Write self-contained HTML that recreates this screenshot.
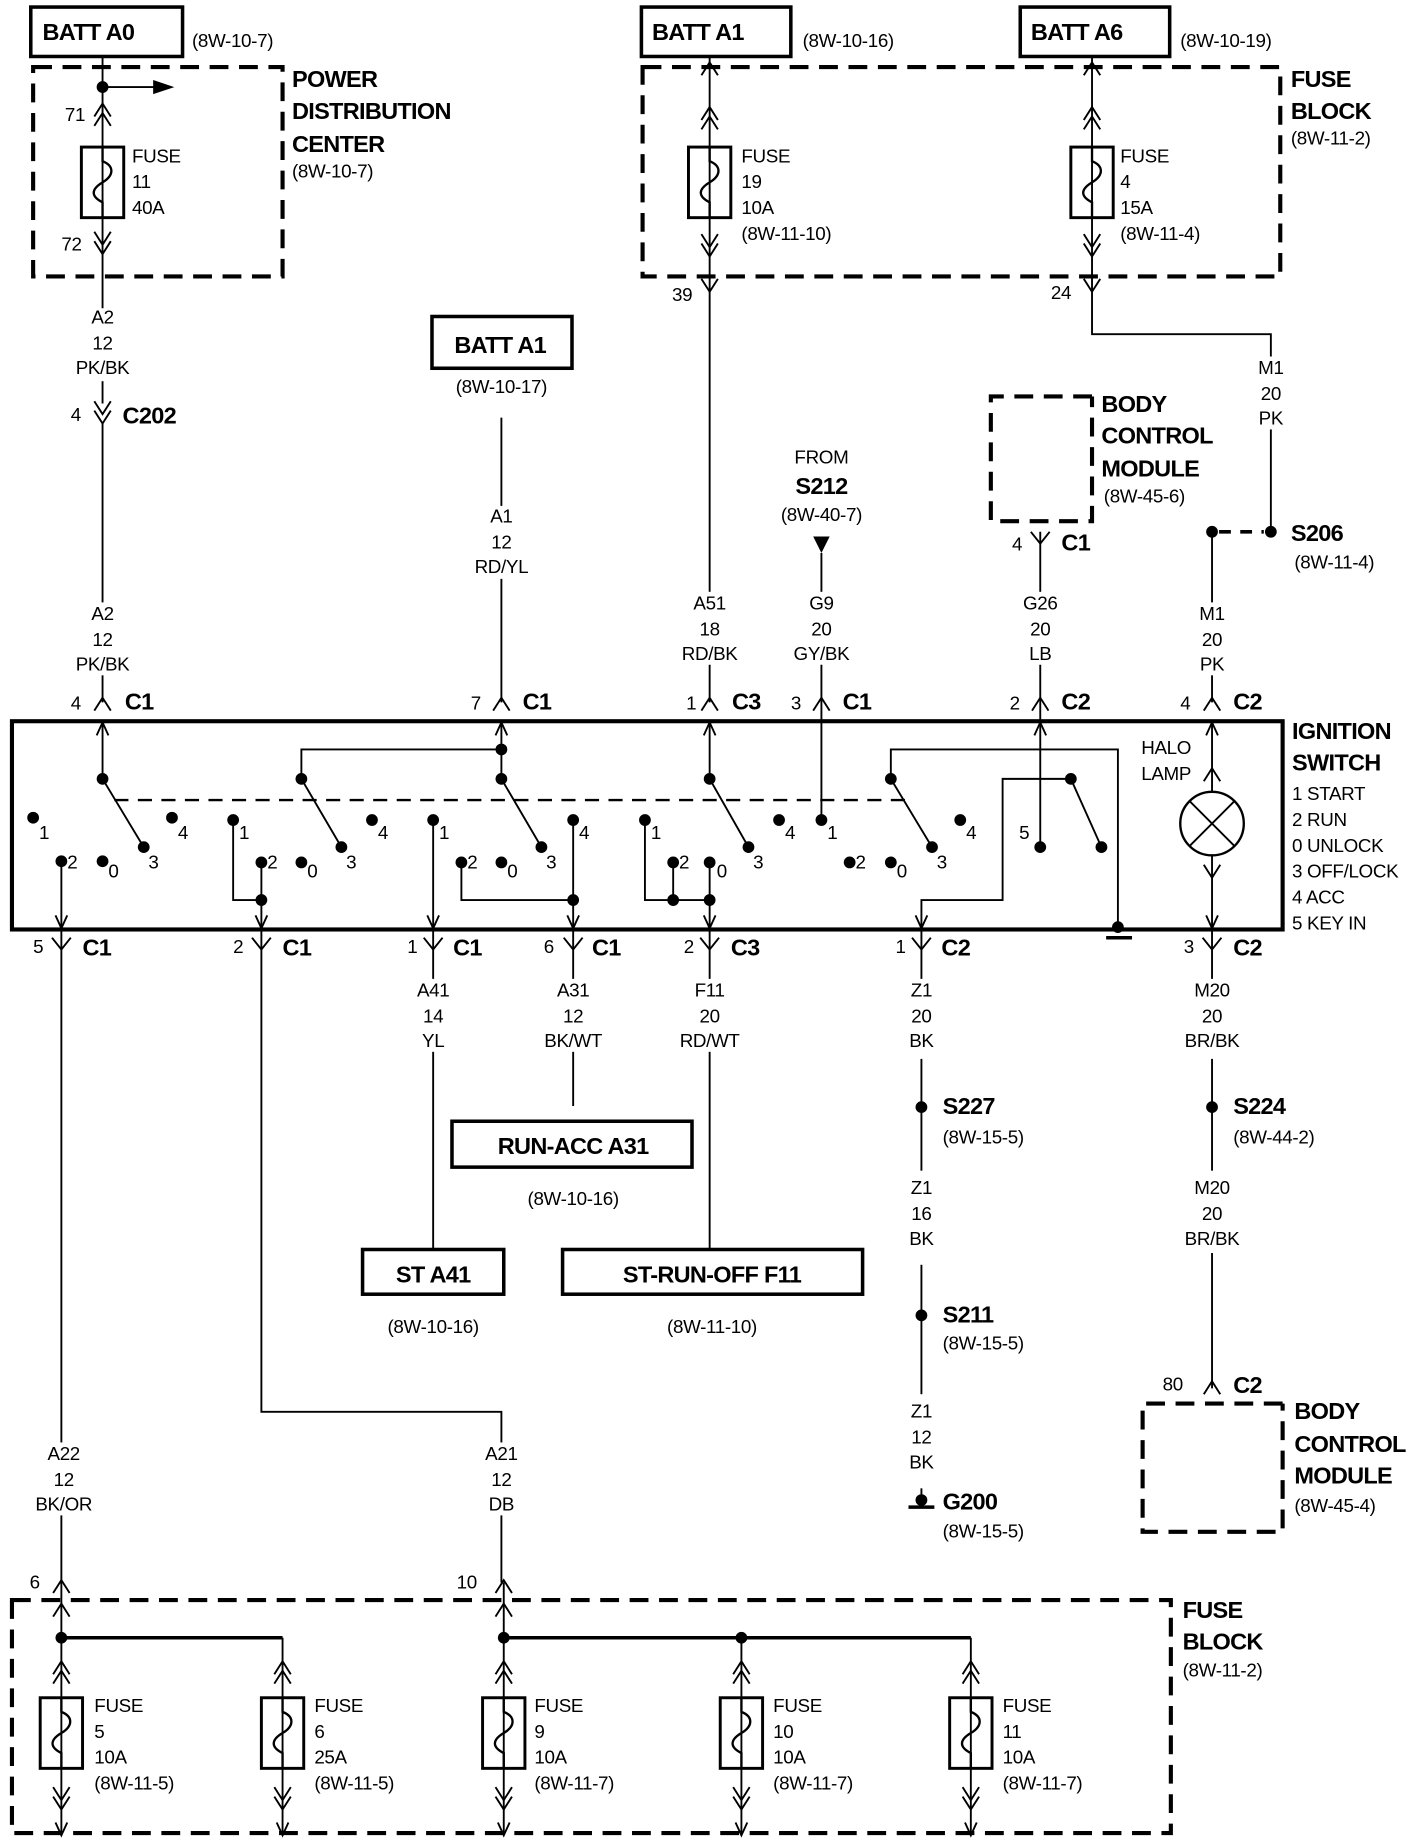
<!DOCTYPE html>
<html><head><meta charset="utf-8"><style>
html,body{margin:0;padding:0;background:#fff}
svg{display:block}
text{font-family:"Liberation Sans Narrow","Liberation Sans",sans-serif;fill:#000}
.b{font-weight:bold;font-size:20px;letter-spacing:-0.6px}
.n{font-size:16px;letter-spacing:-0.3px}
.w{stroke:#000;stroke-width:1.6;fill:none}
.k{stroke:#000;stroke-width:3;fill:none}
.d{stroke:#000;stroke-width:3.5;fill:none;stroke-dasharray:16 9}
.c{text-anchor:middle}
</style></head><body>
<svg width="1424" height="1846" viewBox="0 0 1210 1569" xmlns="http://www.w3.org/2000/svg">
<defs>
<path id="up" d="M-7,7 L0,-4 L7,7" class="w"/>
<g id="dup"><path d="M-7,7 L0,-4 L7,7" class="w"/><path d="M-7,15 L0,4 L7,15" class="w"/></g>
<path id="dn" d="M-7,-7 L0,4 L7,-7" class="w"/>
<g id="ddn"><path d="M-7,-15 L0,-4 L7,-15" class="w"/><path d="M-7,-7 L0,4 L7,-7" class="w"/></g>
<path id="ar" d="M-5,-11 L0,0 L5,-11" class="w"/>
<g id="fuse"><rect x="-18" y="0" width="36" height="60" class="k" style="stroke-width:2.5"/><path d="M0,0 L0,12 C10,16 10,24 0,30 C-10,36 -10,42 0,47 L0,60" class="w" style="stroke-width:2"/></g>
<circle id="dot" r="5" fill="#000"/>
</defs>

<!-- TOP LEFT -->
<rect x="26" y="6" width="129" height="42" class="k"/>
<text x="36" y="34" class="b">BATT A0</text>
<text x="163" y="40" class="n">(8W-10-7)</text>
<rect x="28" y="57" width="212" height="178" class="d"/>
<text x="248" y="74" class="b">POWER</text>
<text x="248" y="101" class="b">DISTRIBUTION</text>
<text x="248" y="129" class="b">CENTER</text>
<text x="248" y="151" class="n">(8W-10-7)</text>
<path d="M87,48 V343 M87,360 V597" class="w"/>
<use href="#dot" x="87" y="74"/>
<path d="M87,74 H132" class="w"/><path d="M130,68 L148,74 L130,80 Z"/>
<use href="#dup" x="87" y="92"/><text x="55" y="103" class="n">71</text>
<g transform="translate(87,125)"><use href="#fuse"/></g>
<text x="112" y="138" class="n">FUSE</text><text x="112" y="160" class="n">11</text><text x="112" y="182" class="n">40A</text>
<use href="#ddn" x="87" y="212"/><text x="52" y="213" class="n">72</text>
<rect x="70" y="262" width="34" height="62" fill="#fff"/>
<text x="87" y="275" class="n c">A2</text><text x="87" y="297" class="n c">12</text><text x="87" y="318" class="n c">PK/BK</text>
<use href="#ddn" x="87" y="356"/><text x="60" y="358" class="n">4</text><text x="104" y="360" class="b">C202</text>
<rect x="70" y="512" width="34" height="62" fill="#fff"/>
<text x="87" y="527" class="n c">A2</text><text x="87" y="549" class="n c">12</text><text x="87" y="570" class="n c">PK/BK</text>
<use href="#up" x="87" y="597"/><text x="60" y="603" class="n">4</text><text x="106" y="603" class="b">C1</text>

<!-- BATT A1 middle -->
<rect x="367" y="269" width="119" height="44" class="k"/>
<text x="386" y="300" class="b">BATT A1</text>
<text x="426" y="334" class="n c">(8W-10-17)</text>
<path d="M426,355 V597" class="w"/>
<rect x="406" y="430" width="40" height="62" fill="#fff"/>
<text x="426" y="444" class="n c">A1</text><text x="426" y="466" class="n c">12</text><text x="426" y="487" class="n c">RD/YL</text>
<use href="#up" x="426" y="597"/><text x="400" y="603" class="n">7</text><text x="444" y="603" class="b">C1</text>

<!-- TOP RIGHT FUSE BLOCK -->
<rect x="545" y="6" width="127" height="42" class="k"/>
<text x="554" y="34" class="b">BATT A1</text>
<text x="682" y="40" class="n">(8W-10-16)</text>
<rect x="867" y="6" width="127" height="42" class="k"/>
<text x="876" y="34" class="b">BATT A6</text>
<text x="1003" y="40" class="n">(8W-10-19)</text>
<rect x="546" y="57" width="542" height="178" class="d"/>
<text x="1097" y="74" class="b">FUSE</text><text x="1097" y="101" class="b">BLOCK</text><text x="1097" y="123" class="n">(8W-11-2)</text>
<path d="M603,48 V597" class="w"/>
<use href="#up" x="603" y="57"/><use href="#dup" x="603" y="95"/>
<g transform="translate(603,125)"><use href="#fuse"/></g>
<use href="#ddn" x="603" y="214"/><use href="#dn" x="603" y="244"/>
<text x="630" y="138" class="n">FUSE</text><text x="630" y="160" class="n">19</text><text x="630" y="182" class="n">10A</text><text x="630" y="204" class="n">(8W-11-10)</text>
<text x="571" y="256" class="n">39</text>
<path d="M928,48 V284 H1080 V452" class="w"/>
<use href="#up" x="928" y="57"/><use href="#dup" x="928" y="95"/>
<g transform="translate(928,125)"><use href="#fuse"/></g>
<use href="#ddn" x="928" y="214"/><use href="#dn" x="928" y="244"/>
<text x="952" y="138" class="n">FUSE</text><text x="952" y="160" class="n">4</text><text x="952" y="182" class="n">15A</text><text x="952" y="204" class="n">(8W-11-4)</text>
<text x="893" y="254" class="n">24</text>
<rect x="1066" y="303" width="28" height="62" fill="#fff"/>
<text x="1080" y="318" class="n c">M1</text><text x="1080" y="340" class="n c">20</text><text x="1080" y="361" class="n c">PK</text>
<use href="#dot" x="1080" y="452"/><use href="#dot" x="1030" y="452"/>
<path d="M1036,452 H1074" class="w" style="stroke-width:3;stroke-dasharray:10 8"/>
<text x="1097" y="460" class="b">S206</text><text x="1100" y="483" class="n">(8W-11-4)</text>
<path d="M1030,452 V597" class="w"/>
<rect x="1014" y="512" width="32" height="62" fill="#fff"/>
<text x="1030" y="527" class="n c">M1</text><text x="1030" y="549" class="n c">20</text><text x="1030" y="570" class="n c">PK</text>
<use href="#up" x="1030" y="597"/><text x="1003" y="603" class="n">4</text><text x="1048" y="603" class="b">C2</text>

<!-- FROM S212 -->
<text x="698" y="394" class="n c">FROM</text>
<text x="698" y="420" class="b c">S212</text>
<text x="698" y="443" class="n c">(8W-40-7)</text>
<path d="M691,456 L705,456 L698,470 Z"/>
<path d="M698,470 V700" class="w"/>
<rect x="676" y="503" width="44" height="62" fill="#fff"/>
<text x="698" y="518" class="n c">G9</text><text x="698" y="540" class="n c">20</text><text x="698" y="561" class="n c">GY/BK</text>
<use href="#up" x="698" y="597"/><text x="672" y="603" class="n">3</text><text x="716" y="603" class="b">C1</text>
<rect x="581" y="503" width="44" height="62" fill="#fff"/>
<text x="603" y="518" class="n c">A51</text><text x="603" y="540" class="n c">18</text><text x="603" y="561" class="n c">RD/BK</text>
<use href="#up" x="603" y="597"/><text x="583" y="603" class="n">1</text><text x="622" y="603" class="b">C3</text>

<!-- BCM top -->
<path d="M928,337 H842 V443 H928 V337" class="d"/>
<text x="936" y="350" class="b">BODY</text><text x="936" y="377" class="b">CONTROL</text><text x="936" y="405" class="b">MODULE</text>
<text x="938" y="427" class="n">(8W-45-6)</text>
<path d="M884,452 V720" class="w"/>
<path d="M876,452 L884,462 L892,452" class="w"/>
<text x="860" y="468" class="n">4</text><text x="902" y="468" class="b">C1</text>
<rect x="866" y="503" width="36" height="62" fill="#fff"/>
<text x="884" y="518" class="n c">G26</text><text x="884" y="540" class="n c">20</text><text x="884" y="561" class="n c">LB</text>
<use href="#up" x="884" y="597"/><text x="858" y="603" class="n">2</text><text x="902" y="603" class="b">C2</text>

<!-- IGNITION SWITCH -->
<rect x="10" y="613" width="1080" height="177" class="k" style="stroke-width:3.5"/>
<text x="1098" y="628" class="b">IGNITION</text><text x="1098" y="655" class="b">SWITCH</text>
<text x="1098" y="680" class="n">1 START</text><text x="1098" y="702" class="n">2 RUN</text>
<text x="1098" y="724" class="n">0 UNLOCK</text><text x="1098" y="746" class="n">3 OFF/LOCK</text>
<text x="1098" y="768" class="n">4 ACC</text><text x="1098" y="790" class="n">5 KEY IN</text>
<path d="M97,680 H777" class="w" style="stroke-width:2;stroke-dasharray:12 8"/>
<g><use href="#ar" x="87" y="614" transform="rotate(180 87 614)"/><use href="#ar" x="426" y="614" transform="rotate(180 426 614)"/><use href="#ar" x="603" y="614" transform="rotate(180 603 614)"/><use href="#ar" x="884" y="614" transform="rotate(180 884 614)"/><use href="#ar" x="1030" y="614" transform="rotate(180 1030 614)"/></g>
<!-- switch 1 -->
<path d="M87,613 V662 L122,720" class="w"/>
<use href="#dot" x="87" y="662"/><use href="#dot" x="122" y="720"/>
<use href="#dot" x="28" y="695"/><text x="33" y="713" class="n">1</text>
<use href="#dot" x="52" y="732"/><text x="57" y="738" class="n">2</text>
<use href="#dot" x="87" y="732"/><text x="92" y="746" class="n">0</text>
<text x="126" y="738" class="n">3</text>
<use href="#dot" x="146" y="695"/><text x="151" y="713" class="n">4</text>
<path d="M52,732 V789" class="w"/><use href="#ar" x="52" y="789"/>
<!-- switch 2 -->
<path d="M426,637 H256 V662 L290,720" class="w"/>
<use href="#dot" x="256" y="662"/><use href="#dot" x="290" y="720"/><use href="#dot" x="426" y="637"/>
<use href="#dot" x="198" y="697"/><text x="203" y="713" class="n">1</text>
<use href="#dot" x="222" y="733"/><text x="227" y="738" class="n">2</text>
<use href="#dot" x="256" y="733"/><text x="261" y="746" class="n">0</text>
<text x="294" y="738" class="n">3</text>
<use href="#dot" x="316" y="697"/><text x="321" y="713" class="n">4</text>
<path d="M198,697 V765 H222 M222,733 V789" class="w"/><use href="#dot" x="222" y="765"/><use href="#ar" x="222" y="789"/>
<!-- switch 3 -->
<path d="M426,613 V662 L460,720" class="w"/>
<use href="#dot" x="426" y="662"/><use href="#dot" x="460" y="720"/>
<use href="#dot" x="368" y="697"/><text x="373" y="713" class="n">1</text>
<use href="#dot" x="392" y="733"/><text x="397" y="738" class="n">2</text>
<use href="#dot" x="426" y="733"/><text x="431" y="746" class="n">0</text>
<text x="464" y="738" class="n">3</text>
<use href="#dot" x="487" y="697"/><text x="492" y="713" class="n">4</text>
<path d="M368,697 V789 M392,733 V765 H487 M487,697 V789" class="w"/><use href="#dot" x="487" y="765"/>
<use href="#ar" x="368" y="789"/><use href="#ar" x="487" y="789"/>
<!-- switch 4 -->
<path d="M603,613 V662 L636,720" class="w"/>
<use href="#dot" x="603" y="662"/><use href="#dot" x="636" y="720"/>
<use href="#dot" x="548" y="697"/><text x="553" y="713" class="n">1</text>
<use href="#dot" x="572" y="733"/><text x="577" y="738" class="n">2</text>
<use href="#dot" x="603" y="733"/><text x="609" y="746" class="n">0</text>
<text x="640" y="738" class="n">3</text>
<use href="#dot" x="662" y="697"/><text x="667" y="713" class="n">4</text>
<path d="M548,697 V765 H603 M572,733 V765 M603,733 V789" class="w"/>
<use href="#dot" x="572" y="765"/><use href="#dot" x="603" y="765"/><use href="#ar" x="603" y="789"/>
<!-- switch 5 -->
<path d="M950,789 V637 H757 V662 L792,720" class="w"/>
<use href="#dot" x="757" y="662"/><use href="#dot" x="792" y="720"/>
<use href="#dot" x="698" y="697"/><text x="703" y="713" class="n">1</text>
<use href="#dot" x="722" y="733"/><text x="727" y="738" class="n">2</text>
<use href="#dot" x="757" y="733"/><text x="762" y="746" class="n">0</text>
<text x="796" y="738" class="n">3</text>
<use href="#dot" x="816" y="697"/><text x="821" y="713" class="n">4</text>
<circle cx="950" cy="788" r="5"/><path d="M940,797 H962" class="k"/>
<!-- key in -->
<path d="M783,789 V765 H852 V662 H910 L936,720" class="w"/>
<use href="#dot" x="910" y="662"/><use href="#dot" x="936" y="720"/><use href="#dot" x="884" y="720"/>
<text x="866" y="713" class="n">5</text><use href="#ar" x="783" y="789"/>
<!-- halo lamp -->
<text x="991" y="641" class="n c">HALO</text><text x="991" y="663" class="n c">LAMP</text>
<path d="M1030,613 V673 M1030,727 V789" class="w"/>
<use href="#up" x="1030" y="657"/>
<circle cx="1030" cy="700" r="27" class="w" style="stroke-width:2"/>
<path d="M1011,681 L1049,719 M1049,681 L1011,719" class="w"/>
<use href="#dn" x="1030" y="742"/><use href="#ar" x="1030" y="789"/>

<!-- bottom connectors -->
<path d="M44,797 L52,807 L60,797 M214,797 L222,807 L230,797 M360,797 L368,807 L376,797 M479,797 L487,807 L495,797 M595,797 L603,807 L611,797 M775,797 L783,807 L791,797 M1022,797 L1030,807 L1038,797" class="w"/>
<text x="28" y="810" class="n">5</text><text x="70" y="812" class="b">C1</text>
<text x="198" y="810" class="n">2</text><text x="240" y="812" class="b">C1</text>
<text x="346" y="810" class="n">1</text><text x="385" y="812" class="b">C1</text>
<text x="462" y="810" class="n">6</text><text x="503" y="812" class="b">C1</text>
<text x="581" y="810" class="n">2</text><text x="621" y="812" class="b">C3</text>
<text x="761" y="810" class="n">1</text><text x="800" y="812" class="b">C2</text>
<text x="1006" y="810" class="n">3</text><text x="1048" y="812" class="b">C2</text>

<!-- lower wires -->
<path d="M52,790 V1345 M222,790 V1200 H426 V1345" class="w"/>
<rect x="32" y="1226" width="40" height="62" fill="#fff"/>
<text x="54" y="1241" class="n c">A22</text><text x="54" y="1263" class="n c">12</text><text x="54" y="1284" class="n c">BK/OR</text>
<rect x="408" y="1226" width="36" height="62" fill="#fff"/>
<text x="426" y="1241" class="n c">A21</text><text x="426" y="1263" class="n c">12</text><text x="426" y="1284" class="n c">DB</text>

<path d="M368,790 V1062 M487,790 V940 M603,790 V1062" class="w"/>
<rect x="350" y="832" width="36" height="62" fill="#fff"/><rect x="467" y="832" width="40" height="62" fill="#fff"/><rect x="581" y="832" width="44" height="62" fill="#fff"/>
<text x="368" y="847" class="n c">A41</text><text x="368" y="869" class="n c">14</text><text x="368" y="890" class="n c">YL</text>
<text x="487" y="847" class="n c">A31</text><text x="487" y="869" class="n c">12</text><text x="487" y="890" class="n c">BK/WT</text>
<text x="603" y="847" class="n c">F11</text><text x="603" y="869" class="n c">20</text><text x="603" y="890" class="n c">RD/WT</text>
<rect x="384" y="953" width="204" height="39" class="k"/><text x="487" y="981" class="b c">RUN-ACC A31</text>
<text x="487" y="1024" class="n c">(8W-10-16)</text>
<rect x="308" y="1062" width="120" height="38" class="k"/><text x="368" y="1090" class="b c">ST A41</text>
<text x="368" y="1133" class="n c">(8W-10-16)</text>
<rect x="478" y="1062" width="255" height="38" class="k"/><text x="605" y="1090" class="b c">ST-RUN-OFF F11</text>
<text x="605" y="1133" class="n c">(8W-11-10)</text>

<!-- Z1 ground -->
<path d="M783,790 V1275" class="w"/>
<rect x="765" y="832" width="36" height="68" fill="#fff"/>
<text x="783" y="847" class="n c">Z1</text><text x="783" y="869" class="n c">20</text><text x="783" y="890" class="n c">BK</text>
<use href="#dot" x="783" y="941"/><text x="801" y="947" class="b">S227</text><text x="801" y="972" class="n">(8W-15-5)</text>
<rect x="765" y="995" width="36" height="80" fill="#fff"/>
<text x="783" y="1015" class="n c">Z1</text><text x="783" y="1037" class="n c">16</text><text x="783" y="1058" class="n c">BK</text>
<use href="#dot" x="783" y="1118"/><text x="801" y="1124" class="b">S211</text><text x="801" y="1147" class="n">(8W-15-5)</text>
<rect x="765" y="1185" width="36" height="80" fill="#fff"/>
<text x="783" y="1205" class="n c">Z1</text><text x="783" y="1227" class="n c">12</text><text x="783" y="1248" class="n c">BK</text>
<circle cx="783" cy="1275" r="5"/><path d="M772,1281 H794" class="k"/>
<text x="801" y="1283" class="b">G200</text><text x="801" y="1307" class="n">(8W-15-5)</text>

<!-- M20 -->
<path d="M1030,790 V1180" class="w"/>
<rect x="1006" y="832" width="48" height="68" fill="#fff"/>
<text x="1030" y="847" class="n c">M20</text><text x="1030" y="869" class="n c">20</text><text x="1030" y="890" class="n c">BR/BK</text>
<use href="#dot" x="1030" y="941"/><text x="1048" y="947" class="b">S224</text><text x="1048" y="972" class="n">(8W-44-2)</text>
<rect x="1006" y="995" width="48" height="70" fill="#fff"/>
<text x="1030" y="1015" class="n c">M20</text><text x="1030" y="1037" class="n c">20</text><text x="1030" y="1058" class="n c">BR/BK</text>
<use href="#up" x="1030" y="1178"/><text x="988" y="1182" class="n">80</text><text x="1048" y="1184" class="b">C2</text>
<path d="M1090,1193 H971 V1302 H1090 V1193" class="d"/>
<text x="1100" y="1206" class="b">BODY</text><text x="1100" y="1234" class="b">CONTROL</text><text x="1100" y="1261" class="b">MODULE</text>
<text x="1100" y="1285" class="n">(8W-45-4)</text>

<!-- bottom fuse block -->
<rect x="10" y="1360" width="985" height="198" class="d"/>
<text x="1005" y="1375" class="b">FUSE</text><text x="1005" y="1402" class="b">BLOCK</text><text x="1005" y="1425" class="n">(8W-11-2)</text>
<use href="#up" x="52" y="1347"/><text x="25" y="1350" class="n">6</text>
<use href="#up" x="428" y="1347"/><text x="388" y="1350" class="n">10</text>
<use href="#up" x="52" y="1367"/><use href="#up" x="428" y="1367"/>
<path d="M52,1345 V1560 M428,1345 V1560 M240,1392 V1560 M825,1392 V1560 M630,1392 V1560" class="w"/>
<path d="M52,1392 H240 M428,1392 H825" class="w" style="stroke-width:3"/>
<use href="#dot" x="52" y="1392"/><use href="#dot" x="428" y="1392"/><use href="#dot" x="630" y="1392"/>
<g transform="translate(52,0)"><use href="#dup" y="1416"/><g transform="translate(0,1443)"><use href="#fuse"/></g><use href="#ddn" y="1534"/><use href="#ar" y="1560"/></g>
<g transform="translate(240,0)"><use href="#dup" y="1416"/><g transform="translate(0,1443)"><use href="#fuse"/></g><use href="#ddn" y="1534"/><use href="#ar" y="1560"/></g>
<g transform="translate(428,0)"><use href="#dup" y="1416"/><g transform="translate(0,1443)"><use href="#fuse"/></g><use href="#ddn" y="1534"/><use href="#ar" y="1560"/></g>
<g transform="translate(630,0)"><use href="#dup" y="1416"/><g transform="translate(0,1443)"><use href="#fuse"/></g><use href="#ddn" y="1534"/><use href="#ar" y="1560"/></g>
<g transform="translate(825,0)"><use href="#dup" y="1416"/><g transform="translate(0,1443)"><use href="#fuse"/></g><use href="#ddn" y="1534"/><use href="#ar" y="1560"/></g>
<text x="80" y="1455" class="n">FUSE</text><text x="80" y="1477" class="n">5</text><text x="80" y="1499" class="n">10A</text><text x="80" y="1521" class="n">(8W-11-5)</text>
<text x="267" y="1455" class="n">FUSE</text><text x="267" y="1477" class="n">6</text><text x="267" y="1499" class="n">25A</text><text x="267" y="1521" class="n">(8W-11-5)</text>
<text x="454" y="1455" class="n">FUSE</text><text x="454" y="1477" class="n">9</text><text x="454" y="1499" class="n">10A</text><text x="454" y="1521" class="n">(8W-11-7)</text>
<text x="657" y="1455" class="n">FUSE</text><text x="657" y="1477" class="n">10</text><text x="657" y="1499" class="n">10A</text><text x="657" y="1521" class="n">(8W-11-7)</text>
<text x="852" y="1455" class="n">FUSE</text><text x="852" y="1477" class="n">11</text><text x="852" y="1499" class="n">10A</text><text x="852" y="1521" class="n">(8W-11-7)</text>
</svg>
</body></html>
